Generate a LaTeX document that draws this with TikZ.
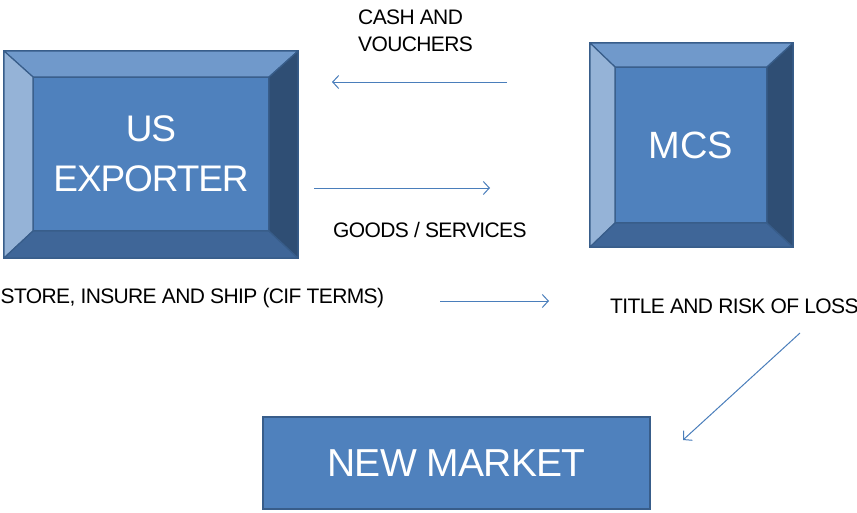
\documentclass[tikz,border=0pt]{standalone}
\usepackage{fontspec}
\setmainfont{Liberation Sans}
\usetikzlibrary{arrows.meta,positioning}

\definecolor{face}{HTML}{4F81BD}
\definecolor{edge}{HTML}{385D8A}
\definecolor{bevtop}{HTML}{7099CB}
\definecolor{bevleft}{HTML}{95B3D7}
\definecolor{bevbottom}{HTML}{3F6698}
\definecolor{bevright}{HTML}{2F4E74}
\definecolor{flowblue}{HTML}{4A7EBB}

\tikzset{
  box/.style={rectangle, fill=face, draw=edge, line width=1.5pt, inner sep=0pt, outer sep=0pt,
    text=white, align=center},
  bev/.style={draw=edge, line width=1.2pt, line join=round},
  flow/.style={-{Straight Barb[length=6pt,width=13pt]}, draw=flowblue, line width=1pt},
  lbl/.style={font=\addfontfeatures{LetterSpace=-3}\fontsize{21}{27}\selectfont, align=left, inner sep=0pt}
}

\begin{document}
\begin{tikzpicture}[x=1pt,y=-1pt]
\useasboundingbox (0,0) rectangle (857,512);
% bevelled boxes: outer frame, then the face with the text
\node[box, minimum width=294, minimum height=207] (EXP) at (151,154.5) {};
\node[box, minimum width=236, minimum height=154, font=\addfontfeatures{LetterSpace=-3}\fontsize{37}{50}\selectfont] (EXP-in) at (151,154) {US\\EXPORTER};
\node[box, minimum width=203, minimum height=204] (MCS) at (691.5,145) {};
\node[box, minimum width=152, minimum height=156, font=\fontsize{38}{46}\selectfont] (MCS-in) at (691,145) {MCS};
\foreach \b in {EXP,MCS} {
  \path[bev, fill=bevtop] (\b.north west) -- (\b.north east) -- (\b-in.north east) -- (\b-in.north west) -- cycle;
  \path[bev, fill=bevleft] (\b.north west) -- (\b-in.north west) -- (\b-in.south west) -- (\b.south west) -- cycle;
  \path[bev, fill=bevbottom] (\b.south west) -- (\b-in.south west) -- (\b-in.south east) -- (\b.south east) -- cycle;
  \path[bev, fill=bevright] (\b.north east) -- (\b.south east) -- (\b-in.south east) -- (\b-in.north east) -- cycle;
}
\node[box, minimum width=387, minimum height=92, font=\addfontfeatures{LetterSpace=-2}\fontsize{39}{46}\selectfont] (NM) at (456.5,463) {NEW MARKET};

% labels
\node[lbl, anchor=west] (cash) at (358,31) {CASH AND\\VOUCHERS};
\node[lbl, anchor=west] (goods) at (333,230) {GOODS / SERVICES};
\node[lbl, anchor=west] (store) at (0.5,298) {STORE, INSURE AND SHIP (CIF TERMS)};
\node[lbl, anchor=west] (title) at (610,306) {TITLE AND RISK OF LOSS};

% flows
\coordinate (cash-a) at (507,82);
\coordinate (cash-b) at (332,82);
\coordinate (goods-a) at (314,188);
\coordinate (goods-b) at (490,188);
\coordinate (store-a) at (440,301);
\coordinate (store-b) at (549,301);
\coordinate (title-a) at (800,333);
\coordinate (title-b) at (683,440);
\draw[flow] (cash-a) -- (cash-b);
\draw[flow] (goods-a) -- (goods-b);
\draw[flow] (store-a) -- (store-b);
\draw[flow] (title-a) -- (title-b);
\end{tikzpicture}
\end{document}
